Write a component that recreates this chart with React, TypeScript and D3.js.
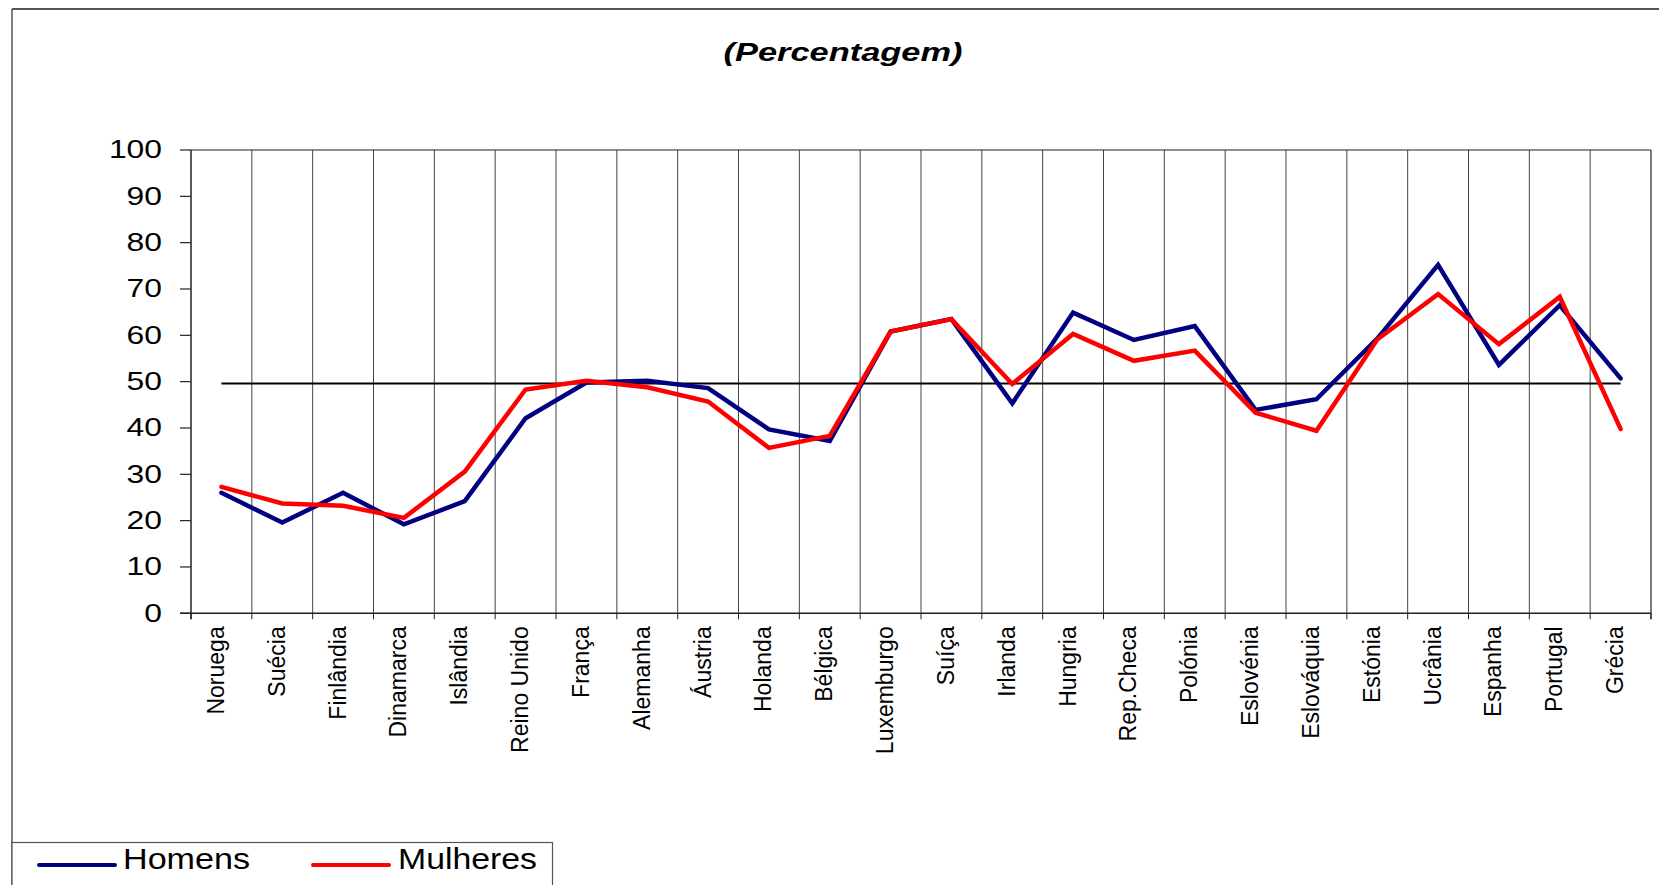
import React from "react";
import * as d3 from "d3";

// Countries along the x axis
const countries = [
  "Noruega", "Suécia", "Finlândia", "Dinamarca", "Islândia", "Reino Unido",
  "França", "Alemanha", "Áustria", "Holanda", "Bélgica", "Luxemburgo",
  "Suíça", "Irlanda", "Hungria", "Rep.Checa", "Polónia", "Eslovénia",
  "Eslováquia", "Estónia", "Ucrânia", "Espanha", "Portugal", "Grécia",
];

// Percentages by sex
const homens = [
  26.0, 19.6, 26.0, 19.2, 24.2, 42.1, 49.8, 50.2, 48.6, 39.7, 37.2, 60.8,
  63.5, 45.3, 64.9, 59.0, 62.0, 43.9, 46.2, 59.3, 75.2, 53.6, 66.5, 50.7,
];
const mulheres = [
  27.3, 23.7, 23.2, 20.6, 30.6, 48.3, 50.2, 48.8, 45.7, 35.7, 38.3, 60.8,
  63.5, 49.5, 60.3, 54.5, 56.7, 43.3, 39.4, 59.1, 68.9, 58.1, 68.3, 39.8,
];

// Reference level drawn across the categories
const referenceLevel = 49.6;

const yTicks = [0, 10, 20, 30, 40, 50, 60, 70, 80, 90, 100];

const seriesList = [
  { name: "Homens", values: homens, color: "#000080" },
  { name: "Mulheres", values: mulheres, color: "#FF0000" },
];

const W = 1659;
const H = 885;
const plot = { left: 191, right: 1651, top: 150, bottom: 613.3 };
const FONT = "'Liberation Sans', Arial, Helvetica, sans-serif";

export default function App() {
  const x = d3
    .scaleBand<string>()
    .domain(countries)
    .range([plot.left, plot.right])
    .paddingInner(0)
    .paddingOuter(0);
  const y = d3.scaleLinear().domain([0, 100]).range([plot.bottom, plot.top]);
  const cx = (c: string) => (x(c) as number) + x.bandwidth() / 2;

  const line = d3
    .line<number>()
    .x((_, i) => cx(countries[i]))
    .y((v) => y(v));

  const boundaries = d3.range(1, countries.length).map((k) => plot.left + k * x.bandwidth());
  const allBounds = [plot.left, ...boundaries, plot.right];

  // legend entries: swatch start/end, text start and its drawn width
  const legendItems = [
    { s: seriesList[0], x1: 39, x2: 115, tx: 123, tw: 127 },
    { s: seriesList[1], x1: 313, x2: 389, tx: 398, tw: 139 },
  ];

  return (
    <div style={{ position: "absolute", left: 0, top: 0 }}>
      <svg width={W} height={H} style={{ display: "block", background: "#fff" }}>
        {/* outer chart frame */}
        <line x1={12} y1={9} x2={W} y2={9} stroke="#555" strokeWidth={2} />
        <line x1={12} y1={9} x2={12} y2={H} stroke="#555" strokeWidth={1.5} />

        {/* title */}
        <text
          x={843}
          y={60.5}
          textAnchor="middle"
          fontFamily={FONT}
          fontSize={26}
          fontWeight="bold"
          fontStyle="italic"
          textLength={239}
          lengthAdjust="spacingAndGlyphs"
          fill="#000"
        >
          (Percentagem)
        </text>

        {/* vertical gridlines at category boundaries */}
        {boundaries.map((bx, i) => (
          <line key={"g" + i} x1={bx} x2={bx} y1={plot.top} y2={plot.bottom} stroke="#444" strokeWidth={1} />
        ))}
        {/* plot border top/right */}
        <line x1={plot.left} x2={plot.right} y1={plot.top} y2={plot.top} stroke="#222" strokeWidth={1.2} />
        <line x1={plot.right} x2={plot.right} y1={plot.top} y2={plot.bottom + 6} stroke="#222" strokeWidth={1.2} />

        {/* y axis */}
        <line x1={plot.left} x2={plot.left} y1={plot.top} y2={plot.bottom + 6} stroke="#222" strokeWidth={1.5} />
        {yTicks.map((t) => (
          <g key={"y" + t}>
            <line x1={180} x2={plot.left} y1={y(t)} y2={y(t)} stroke="#222" strokeWidth={1.2} />
            <text
              x={162}
              y={y(t) + 8.3}
              textAnchor="end"
              fontFamily={FONT}
              fontSize={25.5}
              textLength={String(t).length * 17.7}
              lengthAdjust="spacingAndGlyphs"
              fill="#000"
            >
              {t}
            </text>
          </g>
        ))}

        {/* x axis */}
        <line x1={plot.left - 11} x2={plot.right} y1={plot.bottom} y2={plot.bottom} stroke="#222" strokeWidth={1.5} />
        {allBounds.map((bx, i) => (
          <line key={"xt" + i} x1={bx} x2={bx} y1={plot.bottom} y2={plot.bottom + 6} stroke="#222" strokeWidth={1} />
        ))}
        {countries.map((c) => (
          <text
            key={c}
            transform={`translate(${cx(c) + 2.5},${plot.bottom + 13}) rotate(-90)`}
            textAnchor="end"
            fontFamily={FONT}
            fontSize={23}
            fill="#000"
          >
            {c}
          </text>
        ))}

        {/* reference level */}
        <line
          x1={cx(countries[0])}
          x2={cx(countries[countries.length - 1])}
          y1={y(referenceLevel)}
          y2={y(referenceLevel)}
          stroke="#000"
          strokeWidth={2}
        />

        {/* series */}
        {seriesList.map((s) => (
          <path
            key={s.name}
            d={line(s.values) as string}
            fill="none"
            stroke={s.color}
            strokeWidth={4.5}
            strokeLinejoin="miter"
            strokeLinecap="round"
          />
        ))}

        {/* legend */}
        <rect x={12} y={842.5} width={540.5} height={60} fill="#fff" stroke="#555" strokeWidth={1.2} />
        {legendItems.map((it) => (
          <g key={it.s.name}>
            <line x1={it.x1} x2={it.x2} y1={865} y2={865} stroke={it.s.color} strokeWidth={4} strokeLinecap="round" />
            <text
              x={it.tx}
              y={869}
              fontFamily={FONT}
              fontSize={29}
              textLength={it.tw}
              lengthAdjust="spacingAndGlyphs"
              fill="#000"
            >
              {it.s.name}
            </text>
          </g>
        ))}
      </svg>
    </div>
  );
}
